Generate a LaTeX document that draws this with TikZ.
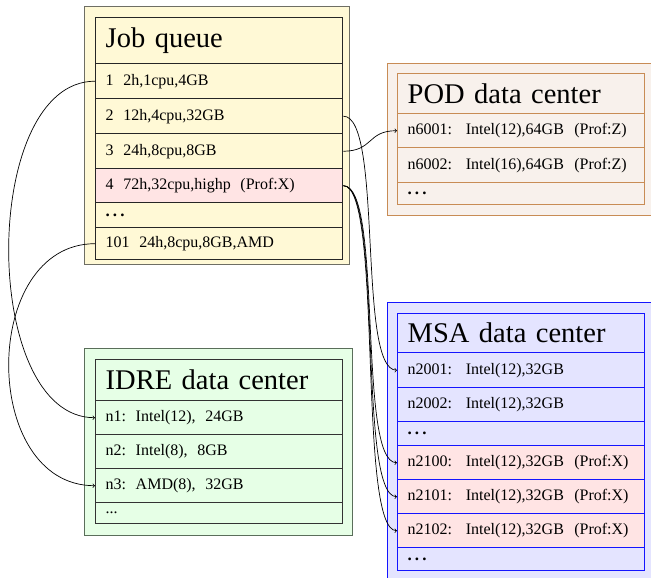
\documentclass[tikz,border=0pt]{standalone}
\usepackage{fontspec}
\setmainfont{Liberation Serif}
\newcommand\myrowfont{\fontsize{16}{18}\selectfont}
\newcommand\mytitlefont{\fontsize{28.5}{32}\selectfont}
\newcommand\mydots{{\bfseries\fontsize{17}{18}\selectfont.\kern0.18em.\kern0.18em.}}
\definecolor{jqfill}{RGB}{255,249,214}
\definecolor{jqouter}{RGB}{110,110,100}
\definecolor{pinkfill}{RGB}{255,228,228}
\definecolor{podfill}{RGB}{248,241,236}
\definecolor{podline}{RGB}{200,140,85}
\definecolor{idrefill}{RGB}{230,255,230}
\definecolor{idreouter}{RGB}{90,110,90}
\definecolor{msafill}{RGB}{228,228,255}
\definecolor{msaline}{RGB}{20,20,255}
\begin{document}
\begin{tikzpicture}[x=1pt,y=-1pt,
  rowbase/.style={draw, line width=1.4pt, anchor=north west, minimum width=247pt,
    text width=227pt, inner xsep=10pt, inner ysep=0pt, align=left, font=\myrowfont},
  titlerow/.style={font=\mytitlefont},
  outerbox/.style={draw, line width=0.9pt, anchor=north west, inner sep=0pt},
  jq/.style={rowbase, draw=black!85, fill=jqfill},
  pod/.style={rowbase, draw=podline, fill=podfill},
  idre/.style={rowbase, draw=black!80, fill=idrefill},
  msa/.style={rowbase, draw=msaline, fill=msafill},
  hot/.style={fill=pinkfill},
  conn/.style={->, line width=0.7pt, black}
]
\useasboundingbox (0,0) rectangle (651,578);

% Job queue
\node[outerbox, draw=jqouter, fill=jqfill, minimum width=265pt, minimum height=258pt] (jqbox) at (84,6) {};
\node[jq, titlerow, minimum height=46pt] (jqt) at (95,17) {Job queue};
\node[jq, minimum height=35pt] (j1) at (95,63) {1\hspace{0.6em}2h,1cpu,4GB};
\node[jq, minimum height=35pt] (j2) at (95,98) {2\hspace{0.6em}12h,4cpu,32GB};
\node[jq, minimum height=35pt] (j3) at (95,133) {3\hspace{0.6em}24h,8cpu,8GB};
\node[jq, hot, minimum height=34pt] (j4) at (95,168) {4\hspace{0.6em}72h,32cpu,highp\hspace{0.6em}(Prof:X)};
\node[jq, minimum height=25pt] (jd) at (95,202) {\mydots};
\node[jq, minimum height=32pt] (j101) at (95,227) {101\hspace{0.6em}24h,8cpu,8GB,AMD};

% POD
\node[outerbox, draw=podline, fill=podfill, minimum width=264pt, minimum height=152pt] (podbox) at (387,63) {};
\node[pod, titlerow, minimum height=40pt] (podt) at (397,73) {POD data center};
\node[pod, minimum height=34pt] (p6001) at (397,113) {n6001:\hspace{0.85em}Intel(12),64GB\hspace{0.65em}(Prof:Z)};
\node[pod, minimum height=35pt] (p6002) at (397,147) {n6002:\hspace{0.85em}Intel(16),64GB\hspace{0.65em}(Prof:Z)};
\node[pod, minimum height=22pt] (pd) at (397,182) {\mydots};

% IDRE
\node[outerbox, draw=idreouter, fill=idrefill, minimum width=268pt, minimum height=187pt] (idrebox) at (84,348) {};
\node[idre, titlerow, minimum height=41pt] (idret) at (95,359) {IDRE data center};
\node[idre, minimum height=34pt] (i1) at (95,400) {n1:\hspace{0.6em}Intel(12),\hspace{0.6em}24GB};
\node[idre, minimum height=34pt] (i2) at (95,434) {n2:\hspace{0.6em}Intel(8),\hspace{0.6em}8GB};
\node[idre, minimum height=34pt] (i3) at (95,468) {n3:\hspace{0.6em}AMD(8),\hspace{0.6em}32GB};
\node[idre, minimum height=21pt] (id) at (95,502) {...};

% MSA
\node[outerbox, draw=msaline, fill=msafill, minimum width=264pt, minimum height=280pt] (msabox) at (387,302) {};
\node[msa, titlerow, minimum height=39pt] (msat) at (397,313) {MSA data center};
\node[msa, minimum height=35pt] (m2001) at (397,352) {n2001:\hspace{0.85em}Intel(12),32GB};
\node[msa, minimum height=34pt] (m2002) at (397,387) {n2002:\hspace{0.85em}Intel(12),32GB};
\node[msa, minimum height=24pt] (md1) at (397,421) {\mydots};
\node[msa, hot, minimum height=34pt] (m2100) at (397,445) {n2100:\hspace{0.85em}Intel(12),32GB\hspace{0.65em}(Prof:X)};
\node[msa, hot, minimum height=34pt] (m2101) at (397,479) {n2101:\hspace{0.85em}Intel(12),32GB\hspace{0.65em}(Prof:X)};
\node[msa, hot, minimum height=34pt] (m2102) at (397,513) {n2102:\hspace{0.85em}Intel(12),32GB\hspace{0.65em}(Prof:X)};
\node[msa, minimum height=23pt] (md2) at (397,547) {\mydots};

% connectors
\draw[conn] (j1.west) .. controls +(-115,0) and +(-115,0) .. (i1.west);
\draw[conn] (j101.west) .. controls +(-115,0) and +(-115,0) .. (i3.west);
\draw[conn] (j3.east) .. controls +(30,0) and +(-30,0) .. (p6001.west);
\draw[conn] (j2.east) .. controls +(40,0) and +(-40,0) .. (m2001.west);
\draw[conn] (j4.east) .. controls +(40,0) and +(-40,0) .. (m2100.west);
\draw[conn] (j4.east) .. controls +(40,0) and +(-40,0) .. (m2101.west);
\draw[conn] (j4.east) .. controls +(40,0) and +(-40,0) .. (m2102.west);
\end{tikzpicture}
\end{document}
